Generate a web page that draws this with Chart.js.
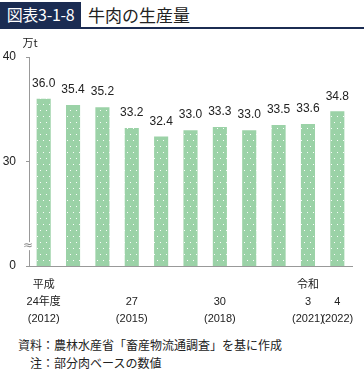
<!DOCTYPE html>
<html>
<head>
<meta charset="utf-8">
<script src="https://cdn.jsdelivr.net/npm/chart.js@4"></script>
<style>
  body { margin: 0; background: #fff; font-family: 'Liberation Sans', 'Noto Sans CJK JP', sans-serif; color: #222; }
  #page { position: relative; width: 364px; height: 370px; overflow: hidden; }
  #head { position: absolute; left: 0; top: 2px; width: 364px; height: 25px; border-bottom: 2px solid #1b2c52; }
  #head .num { position: absolute; left: 0; top: 0; height: 25px; width: 81px; background: #1b2c52; color: #fff; font-size: 16px; line-height: 25px; text-align: center; font-family: 'Noto Sans CJK JP', sans-serif; letter-spacing: -0.3px; }
  #head .ttl { position: absolute; left: 88px; top: 0; font-size: 17px; line-height: 25px; font-family: 'Noto Sans CJK JP', sans-serif; }
  #wrap { position: absolute; left: 0; top: 30px; width: 364px; height: 300px; }
  .note { position: absolute; font-size: 12px; font-family: 'Noto Sans CJK JP', sans-serif; white-space: nowrap; }
</style>
</head>
<body>
<div id="page">
  <div id="head"><div class="num">図表3-1-8</div><div class="ttl">牛肉の生産量</div></div>
  <div id="wrap"><canvas id="beef"></canvas></div>
  <div class="note" style="left:18px; top:336px;">資料：農林水産省「畜産物流通調査」を基に作成</div>
  <div class="note" style="left:30px; top:354px;">注：部分肉ベースの数値</div>
</div>
<script>
// fiscal years 2012-2022
const years = ['2012', '2013', '2014', '2015', '2016', '2017', '2018', '2019', '2020', '2021', '2022'];
const eraLabels = ['平成', '', '', '', '', '', '', '', '', '令和', ''];
const eraYearLabels = ['24年度', '', '', '27', '', '', '30', '', '', '3', '4'];
const shownYears = ['2012', '2015', '2018', '2021', '2022'];
const production = [36.0, 35.4, 35.2, 33.2, 32.4, 33.0, 33.3, 33.0, 33.5, 33.6, 34.8];
const yTicks = [0, 30, 40];
const yBreakFloor = 20; // axis is broken: 0 is drawn where 20 would be

const xLabels = years.map((y, i) => shownYears.includes(y)
  ? [eraLabels[i], eraYearLabels[i], '(' + y + ')']
  : ['', '', '']);

// dotted green fill
function dotPattern() {
  const c = document.createElement('canvas');
  c.width = 6; c.height = 12;
  const g = c.getContext('2d');
  g.fillStyle = 'rgb(155,210,167)';
  g.fillRect(0, 0, 6, 12);
  g.fillStyle = 'rgba(255,255,255,0.95)';
  g.fillRect(1, 2, 1, 1);
  g.fillRect(4, 8, 1, 1);
  return g.createPattern(c, 'repeat');
}

const extras = {
  id: 'extras',
  afterDatasetsDraw(chart) {
    const ctx = chart.ctx;
    const meta = chart.getDatasetMeta(0);
    const area = chart.chartArea;
    ctx.save();
    ctx.fillStyle = '#222';
    ctx.font = '12px "Liberation Sans", sans-serif';
    ctx.textAlign = 'center';
    ctx.textBaseline = 'middle';
    meta.data.forEach((bar, i) => {
      ctx.fillText(production[i].toFixed(1), bar.x, bar.y - 15);
    });
    // unit
    ctx.font = '11px "Noto Sans CJK JP", sans-serif';
    ctx.fillText('万t', area.left + 1, area.top - 14);
    // axis break mark
    const ys = chart.scales.y;
    const by = ys.getPixelForValue(yBreakFloor + 1.9);
    ctx.fillStyle = '#fff';
    ctx.fillRect(area.left - 4, by - 4, 8, 8);
    ctx.fillStyle = '#888';
    ctx.font = '12px "DejaVu Sans", sans-serif';
    ctx.fillText('≈', area.left - 1, by);
    ctx.restore();
  }
};

new Chart(document.getElementById('beef'), {
  type: 'bar',
  data: {
    labels: xLabels,
    datasets: [{
      data: production,
      backgroundColor: dotPattern(),
      borderWidth: 0,
      barPercentage: 0.8,
      categoryPercentage: 0.6
    }]
  },
  options: {
    responsive: true,
    maintainAspectRatio: false,
    animation: false,
    events: [],
    layout: { padding: { top: 27, right: 12, left: 0, bottom: 0 } },
    plugins: { legend: { display: false }, tooltip: { enabled: false } },
    scales: {
      x: {
        grid: { display: false },
        border: { display: true, color: '#999' },
        ticks: {
          autoSkip: false,
          maxRotation: 0,
          padding: 2,
          color: '#222',
          font: { size: 11, family: '"Liberation Sans", "Noto Sans CJK JP", sans-serif', lineHeight: 1.55 }
        },
        afterFit(scale) { scale.height = 64; }
      },
      y: {
        min: yBreakFloor,
        max: 40,
        grid: { drawOnChartArea: false, drawTicks: true, tickLength: 3, color: '#999' },
        border: { display: true, color: '#999' },
        ticks: {
          padding: 10,
          color: '#222',
          font: { size: 12, family: '"Liberation Sans", sans-serif' },
          callback: v => (v === yBreakFloor ? '0' : String(v))
        },
        afterBuildTicks(scale) {
          scale.ticks = yTicks.map(v => ({ value: v === 0 ? yBreakFloor : v }));
        },
        afterFit(scale) { scale.width = 29; }
      }
    }
  },
  plugins: [extras]
});
</script>
</body>
</html>
